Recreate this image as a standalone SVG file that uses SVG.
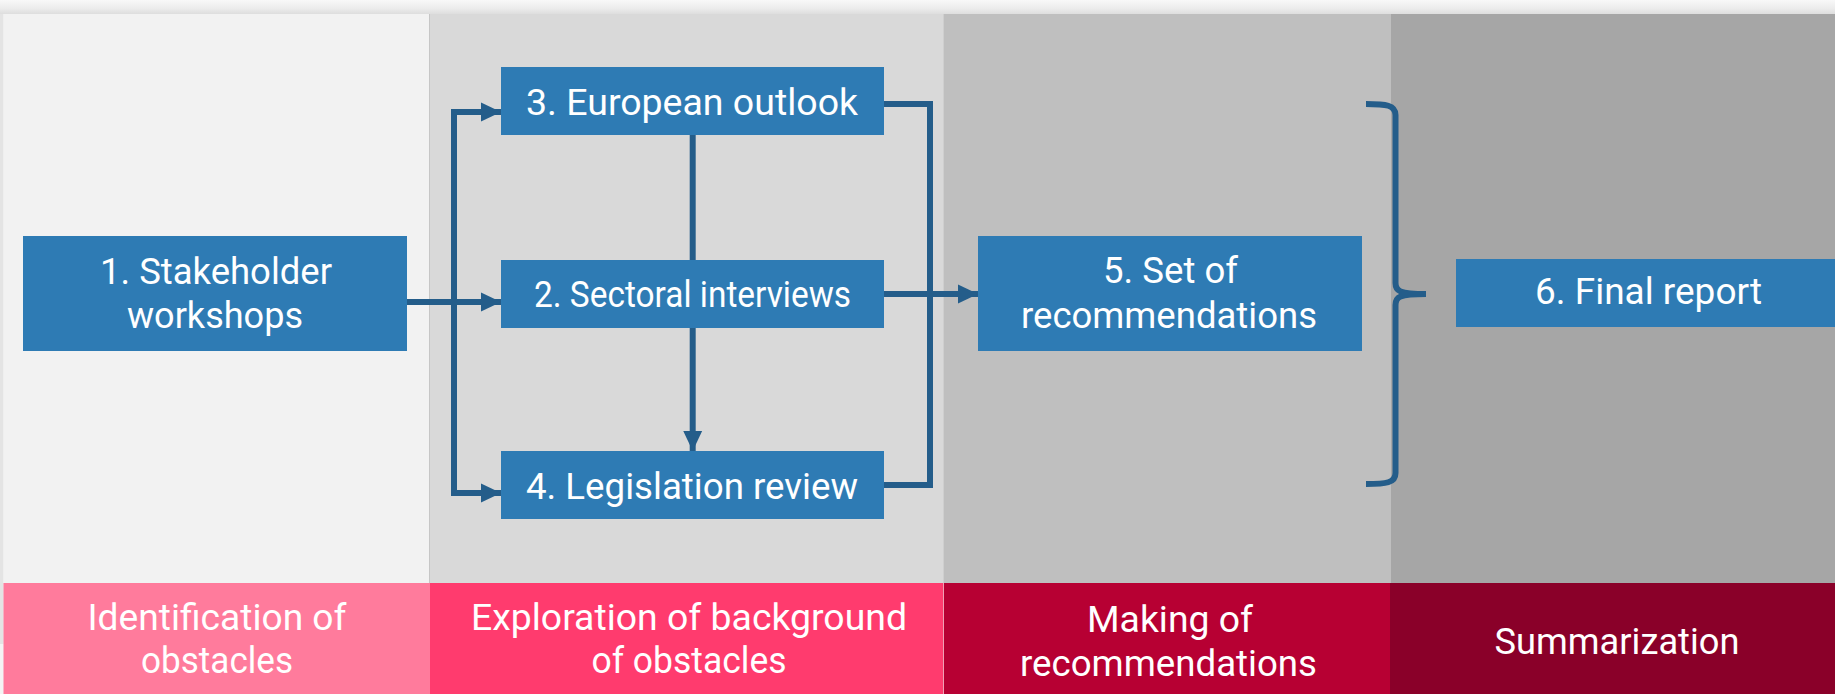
<svg xmlns="http://www.w3.org/2000/svg" width="1835" height="694" viewBox="0 0 1835 694">
<style>
.box{fill:#2E7BB4}
.t{font-family:Roboto,"Liberation Sans",sans-serif;font-size:37px;fill:#ffffff;text-anchor:middle}
.c{fill:none;stroke:#245D8A;stroke-width:6;stroke-linejoin:miter;stroke-linecap:butt}
</style>
<defs>
<marker id="arr" markerUnits="userSpaceOnUse" markerWidth="20" markerHeight="20" viewBox="0 0 18 18" refX="18" refY="9" orient="auto">
<path d="M0,0.5 L18,9 L0,17.5 Z" fill="#245D8A"/>
</marker>
<linearGradient id="topg" x1="0" y1="0" x2="0" y2="1">
<stop offset="0" stop-color="#f8f8f8"/>
<stop offset="0.6" stop-color="#ececec"/>
<stop offset="1" stop-color="#dedede"/>
</linearGradient>
</defs>

<g id="background">
<rect x="0" y="0" width="1835" height="694" fill="#f4f4f4"/>
<rect x="0" y="0" width="1835" height="14" fill="url(#topg)"/>
<rect x="0" y="14" width="3.5" height="630" fill="#e4e4e4"/>
<rect x="3.5" y="14" width="426" height="569" fill="#f2f2f2"/>
<rect x="429.5" y="14" width="513.5" height="569" fill="#d9d9d9"/>
<rect x="943" y="14" width="448" height="569" fill="#bfbfbf"/>
<rect x="1391" y="14" width="444" height="569" fill="#a6a6a6"/>
<line x1="429.5" y1="14" x2="429.5" y2="583" stroke="#c6c6c6" stroke-width="1"/>
<line x1="943.5" y1="14" x2="943.5" y2="583" stroke="#cfcfcf" stroke-width="1"/>
</g>

<g id="phase-1">
<rect x="3.5" y="583" width="426.5" height="111" fill="#FF7B9C"/>
<text class="t" x="217" y="630" textLength="259" lengthAdjust="spacingAndGlyphs">Identification of</text>
<text class="t" x="217" y="673" textLength="152" lengthAdjust="spacingAndGlyphs">obstacles</text>
</g>
<g id="phase-2">
<rect x="430" y="583" width="513" height="111" fill="#FF3B6E"/>
<text class="t" x="689" y="630" textLength="436" lengthAdjust="spacingAndGlyphs">Exploration of background</text>
<text class="t" x="689" y="673" textLength="195" lengthAdjust="spacingAndGlyphs">of obstacles</text>
</g>
<g id="phase-3">
<rect x="943" y="583" width="447" height="111" fill="#B70033"/>
<line x1="943.5" y1="583" x2="943.5" y2="694" stroke="#f0a0b4" stroke-width="1"/>
<text class="t" x="1170" y="632" textLength="166" lengthAdjust="spacingAndGlyphs">Making of</text>
<text class="t" x="1168.5" y="676" textLength="297" lengthAdjust="spacingAndGlyphs">recommendations</text>
</g>
<g id="phase-4">
<rect x="1390" y="583" width="445" height="111" fill="#8A0029"/>
<text class="t" x="1617" y="654" textLength="245" lengthAdjust="spacingAndGlyphs">Summarization</text>
</g>

<g id="connectors">
<path class="c" d="M407,302 H501" marker-end="url(#arr)"/>
<path class="c" d="M454,302 V112 H501" marker-end="url(#arr)"/>
<path class="c" d="M454,302 V493 H501" marker-end="url(#arr)"/>
<path class="c" d="M692.7,135 V260"/>
<path class="c" d="M692.7,328 V451" marker-end="url(#arr)"/>
<path class="c" d="M884,104 H930 V485 H884"/>
<path class="c" d="M884,294 H978" marker-end="url(#arr)"/>
<path class="c" d="M1366,104 C1386,104 1395.5,105 1395.5,115 V283 C1395.5,291 1399,294 1426,294 M1426,294 C1399,294 1395.5,297 1395.5,305 V473 C1395.5,483 1386,484 1366,484"/>
</g>

<g id="node-1">
<rect class="box" x="23" y="236" width="384" height="115"/>
<text class="t" x="216" y="284" textLength="232" lengthAdjust="spacingAndGlyphs">1. Stakeholder</text>
<text class="t" x="215" y="328" textLength="176" lengthAdjust="spacingAndGlyphs">workshops</text>
</g>
<g id="node-3">
<rect class="box" x="501" y="67" width="383" height="68"/>
<text class="t" x="692" y="115" textLength="332" lengthAdjust="spacingAndGlyphs">3. European outlook</text>
</g>
<g id="node-2">
<rect class="box" x="501" y="260" width="383" height="68"/>
<text class="t" x="692.5" y="307" textLength="317" lengthAdjust="spacingAndGlyphs">2. Sectoral interviews</text>
</g>
<g id="node-4">
<rect class="box" x="501" y="451" width="383" height="68"/>
<text class="t" x="692" y="499" textLength="332" lengthAdjust="spacingAndGlyphs">4. Legislation review</text>
</g>
<g id="node-5">
<rect class="box" x="978" y="236" width="384" height="115"/>
<text class="t" x="1170.5" y="283" textLength="135" lengthAdjust="spacingAndGlyphs">5. Set of</text>
<text class="t" x="1169" y="328" textLength="296" lengthAdjust="spacingAndGlyphs">recommendations</text>
</g>
<g id="node-6">
<rect class="box" x="1456" y="259" width="379" height="68"/>
<text class="t" x="1648.5" y="304" textLength="227" lengthAdjust="spacingAndGlyphs">6. Final report</text>
</g>
</svg>
